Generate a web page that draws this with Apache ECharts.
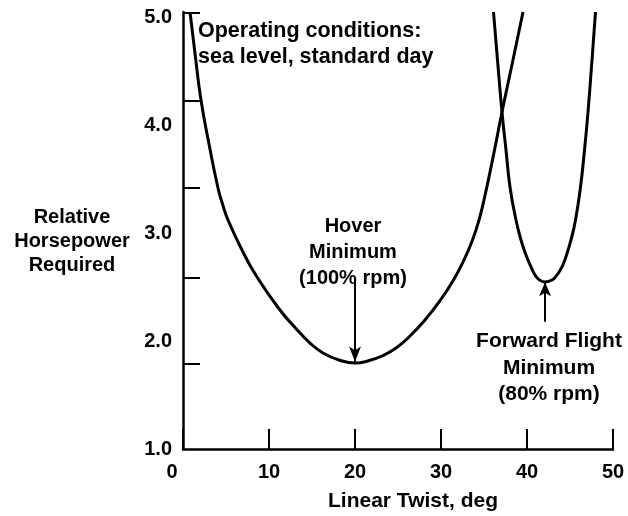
<!DOCTYPE html>
<html>
<head>
<meta charset="utf-8">
<script src="https://cdn.jsdelivr.net/npm/echarts@6/dist/echarts.min.js"></script>
<style>
html,body{margin:0;padding:0;background:#fff;}
#chart{width:628px;height:516px;}
</style>
</head>
<body>
<div id="chart"></div>
<script>
// ---- data ----
const xTickValues = [0, 10, 20, 30, 40, 50];
const yLabelValues = [1.0, 2.0, 3.0, 4.0, 5.0];
const yTickValues = [1.79, 2.59, 3.42, 4.23, 5.04];

// Hover power curve (100% rpm): [linear twist deg, relative horsepower]
const hoverCurve = [
  [0.814, 5.050], [1.430, 4.642], [2.093, 4.234], [3.023, 3.827], [4.070, 3.419], [4.593, 3.271],
  [5.233, 3.122], [6.860, 2.844], [8.605, 2.594], [11.279, 2.288], [12.965, 2.131], [14.767, 1.982],
  [16.279, 1.890], [18.140, 1.825], [20.000, 1.797], [21.512, 1.816], [23.140, 1.862], [24.767, 1.936],
  [26.395, 2.047], [28.140, 2.196], [29.942, 2.381], [31.453, 2.566], [32.674, 2.752], [33.663, 2.937],
  [34.419, 3.122], [35.000, 3.308], [35.988, 3.678], [37.093, 4.123], [38.198, 4.540], [39.535, 5.050]
];
// Forward flight power curve (80% rpm)
const forwardCurve = [
  [36.105, 5.050], [36.570, 4.605], [37.093, 4.123], [37.558, 3.771], [38.023, 3.428], [38.721, 3.122],
  [39.302, 2.937], [39.884, 2.798], [40.465, 2.687], [40.930, 2.613], [41.453, 2.566], [42.093, 2.548],
  [42.907, 2.566], [43.488, 2.613], [44.070, 2.687], [44.593, 2.798], [45.116, 2.937], [45.640, 3.122],
  [46.221, 3.428], [46.686, 3.771], [47.093, 4.123], [47.558, 4.605], [47.965, 5.050]
];
// annotation arrows: [x, yStart, yEnd]
const hoverArrow = [20.0, 2.57, 1.81];
const forwardArrow = [42.1, 2.18, 2.545];

const FONT = '"Liberation Sans", Arial, Helvetica, sans-serif';
const BLACK = '#000';

const chart = echarts.init(document.getElementById('chart'), null, {renderer: 'canvas'});

const textStyleBase = {fontFamily: FONT, fontWeight: 'bold', fontSize: 20, fill: BLACK};

chart.setOption({
  animation: false,
  backgroundColor: '#fff',
  grid: {left: 183, right: 15, top: 12, bottom: 67, containLabel: false},
  xAxis: {
    type: 'value', min: 0, max: 50, interval: 10,
    axisLine: {show: true, onZero: false, lineStyle: {color: BLACK, width: 2.5}},
    axisTick: {show: true, inside: true, length: 20, lineStyle: {color: BLACK, width: 2}},
    splitLine: {show: false},
    axisLabel: {
      color: BLACK, fontFamily: FONT, fontWeight: 'bold', fontSize: 20, margin: 13,
      formatter: function (v) { return v === 0 ? '{z|0}' : String(v); },
      rich: {z: {fontFamily: FONT, fontWeight: 'bold', fontSize: 20, color: BLACK, padding: [0, 22, 0, 0]}}
    }
  },
  yAxis: {
    type: 'value', min: 1.0, max: 5.05,
    axisLine: {show: true, onZero: false, lineStyle: {color: BLACK, width: 2.5}},
    axisTick: {show: true, inside: true, length: 17, customValues: yTickValues, lineStyle: {color: BLACK, width: 2}},
    splitLine: {show: false},
    axisLabel: {
      color: BLACK, fontFamily: FONT, fontWeight: 'bold', fontSize: 20, margin: 11,
      customValues: yLabelValues,
      formatter: function (v) { return v.toFixed(1); }
    }
  },
  series: [
    {
      name: 'Hover (100% rpm)', type: 'line', data: hoverCurve, smooth: 0.5,
      showSymbol: false, symbol: 'none', clip: true,
      lineStyle: {color: BLACK, width: 3},
      markLine: {
        silent: true, symbol: ['none', 'arrow'], symbolSize: [9, 15],
        label: {show: false},
        lineStyle: {color: BLACK, width: 2, type: 'solid'},
        data: [[{coord: [hoverArrow[0], hoverArrow[1]]}, {coord: [hoverArrow[0], hoverArrow[2]]}]]
      }
    },
    {
      name: 'Forward Flight (80% rpm)', type: 'line', data: forwardCurve, smooth: 0.5,
      showSymbol: false, symbol: 'none', clip: true,
      lineStyle: {color: BLACK, width: 3},
      markLine: {
        silent: true, symbol: ['none', 'arrow'], symbolSize: [9, 14],
        label: {show: false},
        lineStyle: {color: BLACK, width: 2, type: 'solid'},
        data: [[{coord: [forwardArrow[0], forwardArrow[1]]}, {coord: [forwardArrow[0], forwardArrow[2]]}]]
      }
    }
  ],
  graphic: [
    {type: 'text', left: 198, top: 18, silent: true,
     style: Object.assign({}, textStyleBase, {text: 'Operating conditions:\nsea level, standard day', fontSize: 21.5, lineHeight: 26, align: 'left'})},
    {type: 'text', x: 72, y: 205, silent: true,
     style: Object.assign({}, textStyleBase, {text: 'Relative\nHorsepower\nRequired', lineHeight: 24, align: 'center', verticalAlign: 'top'})},
    {type: 'text', x: 353, y: 213, silent: true,
     style: Object.assign({}, textStyleBase, {text: 'Hover\nMinimum\n(100% rpm)', lineHeight: 26, align: 'center', verticalAlign: 'top'})},
    {type: 'text', x: 549, y: 328, silent: true,
     style: Object.assign({}, textStyleBase, {text: 'Forward Flight\nMinimum\n(80% rpm)', fontSize: 21, lineHeight: 26.5, align: 'center', verticalAlign: 'top'})},
    {type: 'text', x: 413, y: 489, silent: true,
     style: Object.assign({}, textStyleBase, {text: 'Linear Twist, deg', fontSize: 21, lineHeight: 24, align: 'center', verticalAlign: 'top'})}
  ]
});
</script>
</body>
</html>
